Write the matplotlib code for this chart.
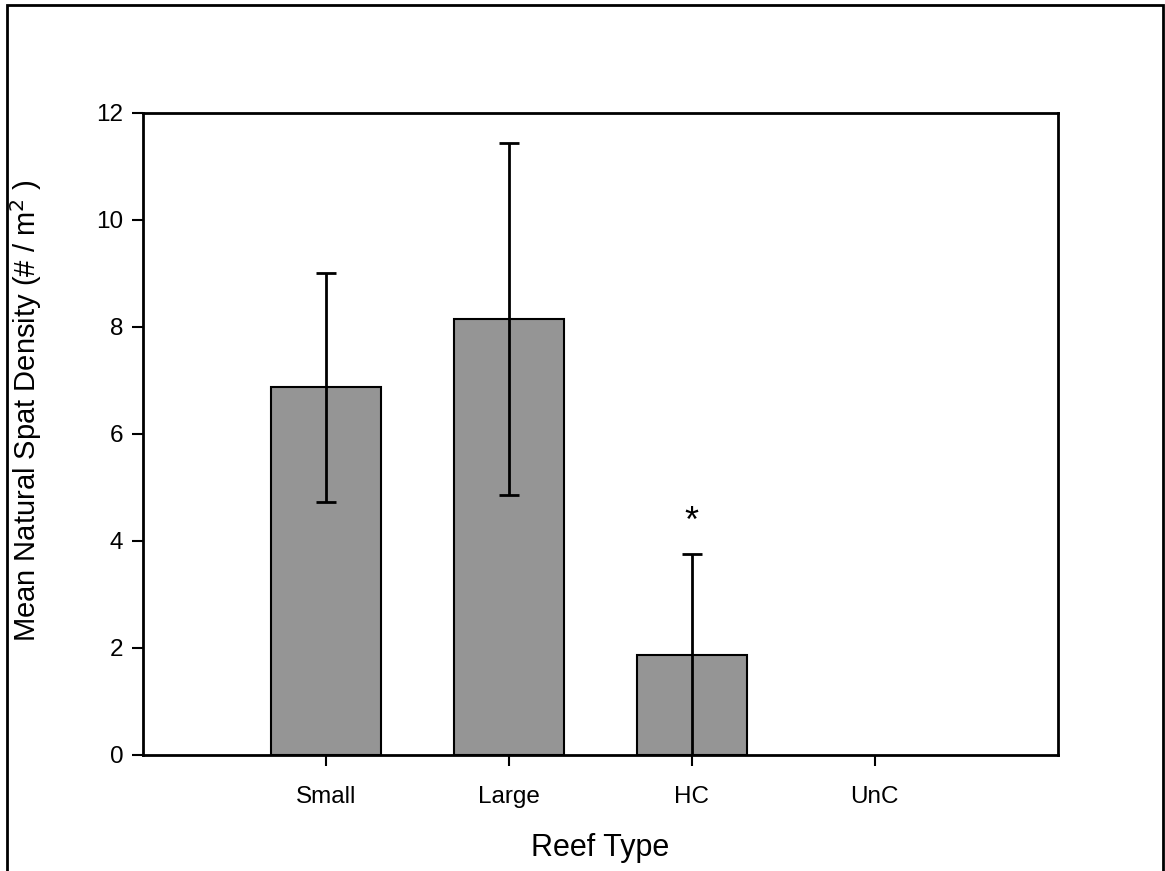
import matplotlib
matplotlib.use("Agg")
import matplotlib.pyplot as plt
from matplotlib.patches import Rectangle

plt.rcParams['font.family'] = ['Liberation Sans', 'DejaVu Sans']

# data
reef_types = ["Small", "Large", "HC", "UnC"]
mean_density = [6.87, 8.15, 1.87, 0.0]
density_err = [2.14, 3.29, 1.88, 0.0]
y_ticks = [0, 2, 4, 6, 8, 10, 12]

fig = plt.figure(figsize=(11.65, 8.71), dpi=100)
ax = fig.add_axes([0.1225, 0.1332, 0.7855, 0.7373])

positions = list(range(1, len(reef_types) + 1))
ax.bar(positions[:3], mean_density[:3], width=0.6, color="#959595",
       edgecolor="black", linewidth=1.5, zorder=2)
ax.errorbar(positions[:3], mean_density[:3], yerr=density_err[:3], fmt="none",
            ecolor="black", elinewidth=2, capsize=7.5, capthick=2, zorder=3)

# significance marker above HC
ax.text(positions[2], mean_density[2] + density_err[2] + 0.6, "*",
        ha="center", va="center", fontsize=26)

ax.set_xlim(0, 5)
ax.set_ylim(0, 12)
ax.set_xticks(positions)
ax.set_xticklabels(reef_types)
ax.set_yticks(y_ticks)
ax.tick_params(axis="both", direction="out", length=8, width=1.5,
               labelsize=17.5, pad=6)
ax.tick_params(axis="x", pad=14)
for sp in ax.spines.values():
    sp.set_linewidth(2)

ax.set_xlabel("Reef Type", fontsize=22, labelpad=18)
ax.set_ylabel("Mean Natural Spat Density (# / m$^2$ )", fontsize=21)
ax.yaxis.set_label_coords(-0.108, 0.536)

# frame around the whole figure
fig.patches.append(Rectangle((0.006, -0.01), 0.992, 1.004, transform=fig.transFigure,
                             fill=False, edgecolor="black", linewidth=2))

fig.savefig("out.png", dpi=100)
